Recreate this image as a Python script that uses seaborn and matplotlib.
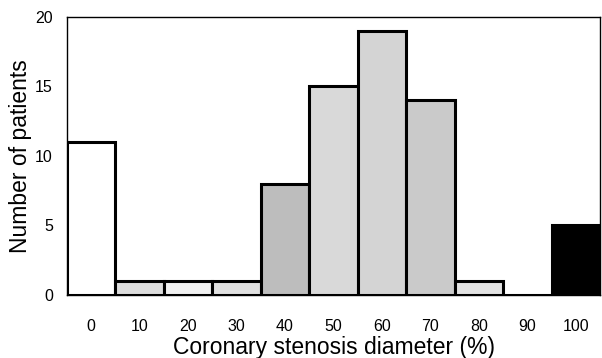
import matplotlib
matplotlib.use("Agg")
import matplotlib.pyplot as plt
import pandas as pd
import seaborn as sns

# ---------------------------------------------------------
# Data
# ---------------------------------------------------------

stenosis = ["0", "10", "20", "30", "40", "50", "60", "70", "80", "90", "100"]
patients = [11, 1, 1, 1, 8, 15, 19, 14, 1, 0, 5]
y_ticks = [0, 5, 10, 15, 20]

palette = ["#ffffff", "#dcdcdc", "#f0f0f0", "#e0e0e0", "#bdbdbd", "#d9d9d9",
           "#d4d4d4", "#cacaca", "#e2e2e2", "#ffffff", "#000000"]

df = pd.DataFrame({"Stenosis": stenosis, "Patients": patients})

# ---------------------------------------------------------
# Plot
# ---------------------------------------------------------

sns.set_style("white")
plt.rcParams["font.family"] = ["Liberation Sans", "DejaVu Sans"]
plt.rcParams["text.color"] = "black"
plt.rcParams["axes.labelcolor"] = "black"
plt.rcParams["xtick.color"] = "black"
plt.rcParams["ytick.color"] = "black"

fig = plt.figure(figsize=(6.02, 3.58), dpi=100)
ax = fig.add_axes([0.111, 0.176, 0.886, 0.777])

sns.barplot(
    data=df,
    x="Stenosis",
    y="Patients",
    hue="Stenosis",
    palette=palette,
    legend=False,
    width=1.0,
    edgecolor="black",
    linewidth=2.2,
    saturation=1,
    ax=ax
)

ax.set_xlim(-0.5, 10.5)
ax.set_ylim(0, 20)
ax.set_yticks(y_ticks)

ax.tick_params(axis="x", length=0, pad=17, labelsize=11.5, labelcolor="black")
ax.tick_params(axis="y", length=0, pad=10, labelsize=11.5, labelcolor="black")

for side in ["left", "bottom", "top", "right"]:
    ax.spines[side].set_color("black")
    ax.spines[side].set_linewidth(1.0)

ax.set_xlabel("Coronary stenosis diameter (%)", fontsize=16.5, labelpad=2, color="black")
ax.set_ylabel("Number of patients", fontsize=16.5, labelpad=2, color="black")

fig.savefig("out.png", dpi=100)
